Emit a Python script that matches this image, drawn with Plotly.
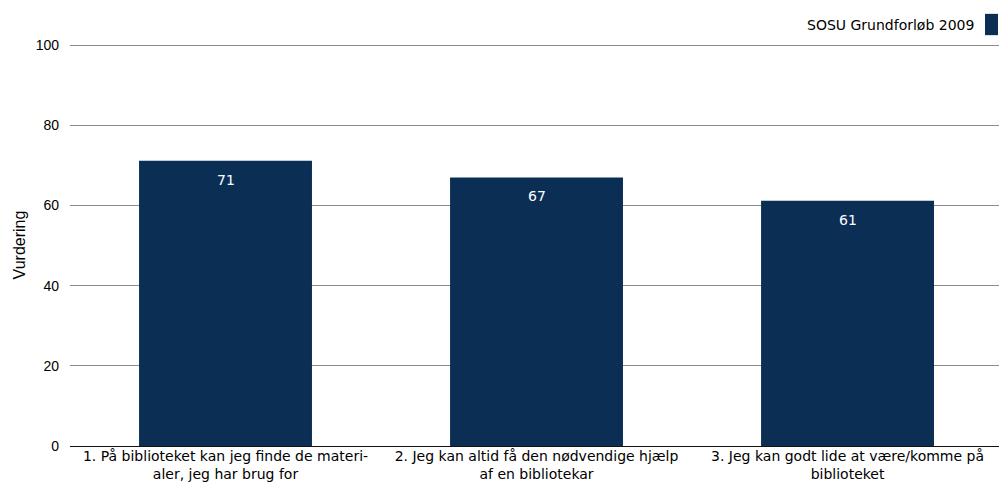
import plotly.graph_objects as go

categories = ["1. På biblioteket kan jeg finde de materi-<br>aler, jeg har brug for",
              "2. Jeg kan altid få den nødvendige hjælp<br>af en bibliotekar",
              "3. Jeg kan godt lide at være/komme på<br>biblioteket"]
values = [71.2, 67.0, 61.2]
series_name = "SOSU Grundforløb 2009"
bar_color = "#0b2e55"
y_ticks = [0, 20, 40, 60, 80, 100]

fig = go.Figure()
fig.add_trace(go.Bar(x=categories, y=values, name=series_name, marker=dict(color=bar_color, line=dict(width=0)),
                     width=0.556, showlegend=False, hoverinfo="y"))

# value labels inside the bars, a little below the top
for c, v in zip(categories, values):
    fig.add_annotation(x=c, y=v, text=str(round(v)), showarrow=False, yshift=-19,
                       font=dict(family="DejaVu Sans", size=14, color="white"))

# legend drawn by hand: text with the swatch on the right
fig.add_annotation(xref="paper", yref="paper", x=0.9755, y=1.047, xanchor="right", yanchor="middle",
                   text=series_name, showarrow=False, font=dict(family="DejaVu Sans", size=14, color="black"))
fig.add_shape(type="rect", xref="paper", yref="paper", x0=0.9849, x1=0.9989, y0=1.022, y1=1.075,
              fillcolor=bar_color, line=dict(width=0))

fig.update_layout(
    width=999, height=493,
    margin=dict(l=70, r=0, t=44, b=47),
    plot_bgcolor="white", paper_bgcolor="white",
    font=dict(family="Liberation Sans", size=14, color="black"),
)
fig.update_xaxes(range=[-0.5, 2.487], showgrid=False, showline=False, ticks="",
                 tickfont=dict(family="DejaVu Sans", size=14, color="black"))
fig.update_yaxes(range=[0, 100.3], tickvals=y_ticks, showgrid=True, gridcolor="#8c8c8c", gridwidth=1,
                 zeroline=True, zerolinecolor="#111111", zerolinewidth=1, ticks="",
                 ticklabelstandoff=10,
                 title=dict(text="Vurdering", font=dict(family="Liberation Sans", size=16), standoff=6),
                 tickfont=dict(family="Liberation Sans", size=14, color="black"))

# drop the page's default body margin so the figure fills the window
fig.write_html("out.html", config={"displayModeBar": False},
               post_script="document.body.style.margin='0';document.body.style.overflow='hidden';")
